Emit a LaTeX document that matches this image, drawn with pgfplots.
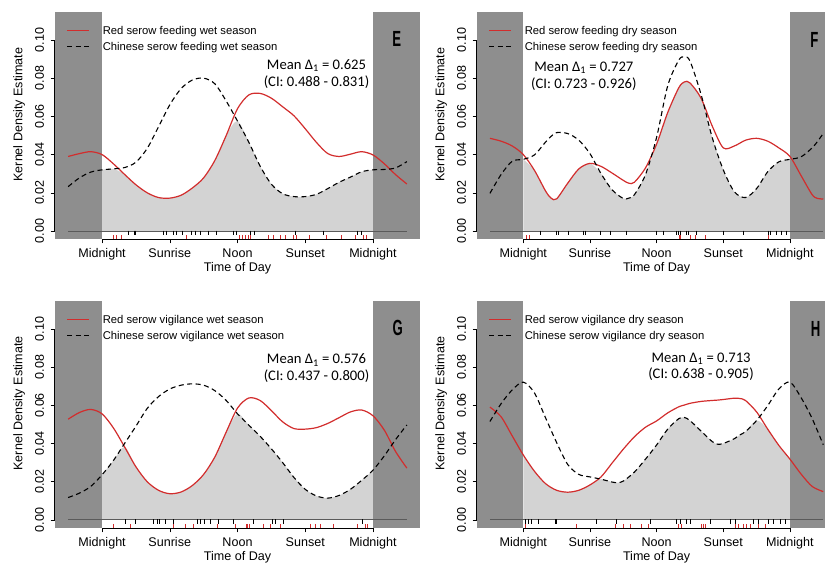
\documentclass[border=0pt]{standalone}
\usepackage{fontspec}
\setmainfont{Liberation Sans}
\newfontfamily\calib{Carlito}
\usepackage{graphicx}
\usepackage{pgfplots}
\usepackage{pgfplotstable}
\pgfplotsset{compat=1.18}

\definecolor{nightgrey}{RGB}{142,142,142}
\definecolor{overlapgrey}{RGB}{211,211,211}
\definecolor{serowred}{RGB}{210,45,45}
\definecolor{zerogrey}{RGB}{90,90,90}

\tikzset{
  redcurve/.style={serowred, line width=1.2bp},
  chinacurve/.style={black, line width=1.1bp, dash pattern=on 5bp off 3.5bp},
}

% kernel densities: x = hour of day, r = red serow, b = Chinese serow
\pgfplotstableread{
x r b
-3 0.0390 0.0232
-2 0.0405 0.0278
-1 0.0415 0.0308
0 0.0400 0.0320
1 0.0352 0.0325
2 0.0296 0.0332
3 0.0242 0.0360
4 0.0200 0.0432
5 0.0175 0.0545
6 0.0172 0.0660
7 0.0187 0.0745
8 0.0225 0.0790
9 0.0278 0.0800
10 0.0370 0.0770
11 0.0500 0.0680
12 0.0640 0.0575
13 0.0712 0.0465
14 0.0720 0.0340
15 0.0695 0.0245
16 0.0650 0.0195
17 0.0603 0.0180
18 0.0535 0.0180
19 0.0463 0.0192
20 0.0405 0.0222
21 0.0390 0.0255
22 0.0402 0.0282
23 0.0415 0.0310
24 0.0398 0.0320
25 0.0352 0.0322
26 0.0295 0.0330
27 0.0246 0.0363
}\tabE

\pgfplotstableread{
x r b
-3 0.0485 0.0197
-2 0.0470 0.0295
-1 0.0445 0.0365
0 0.0400 0.0375
1 0.0318 0.0398
2 0.0210 0.0465
2.5 0.0172 0.0495
3 0.0168 0.0515
4 0.0250 0.0510
5 0.0325 0.0475
6 0.0354 0.0405
7 0.0338 0.0300
8 0.0303 0.0215
9 0.0265 0.0170
9.5 0.0250 0.0172
10 0.0255 0.0190
11 0.0330 0.0295
12 0.0455 0.0490
13 0.0620 0.0760
14 0.0750 0.0895
14.5 0.0780 0.0910
15 0.0775 0.0890
16 0.0695 0.0715
17 0.0550 0.0490
18 0.0435 0.0320
19 0.0445 0.0205
20 0.0475 0.0175
21 0.0485 0.0222
22 0.0470 0.0310
23 0.0435 0.0362
24 0.0390 0.0375
25 0.0290 0.0388
26 0.0190 0.0435
26.5 0.0170 0.0470
27 0.0168 0.0511
}\tabF

\pgfplotstableread{
x r b
-3 0.0527 0.0117
-2 0.0562 0.0140
-1 0.0578 0.0175
0 0.0555 0.0236
1 0.0482 0.0310
2 0.0382 0.0400
3 0.0278 0.0490
4 0.0200 0.0583
5 0.0155 0.0645
6 0.0137 0.0685
7 0.0146 0.0705
8 0.0180 0.0712
9 0.0238 0.0705
10 0.0330 0.0676
11 0.0460 0.0625
12 0.0585 0.0555
13 0.0638 0.0496
14 0.0625 0.0438
15 0.0572 0.0372
16 0.0513 0.0300
17 0.0478 0.0222
18 0.0475 0.0160
19 0.0483 0.0125
20 0.0505 0.0114
21 0.0535 0.0128
22 0.0565 0.0160
23 0.0575 0.0207
24 0.0545 0.0260
25 0.0470 0.0335
26 0.0358 0.0420
27 0.0271 0.0497
}\tabG

\pgfplotstableread{
x r b
-3 0.0590 0.0515
-2 0.0540 0.0608
-1 0.0440 0.0680
0 0.0340 0.0721
1 0.0255 0.0665
2 0.0190 0.0535
3 0.0155 0.0405
4 0.0145 0.0290
5 0.0155 0.0238
6 0.0183 0.0225
7 0.0225 0.0213
8 0.0298 0.0198
8.5 0.0334 0.0195
9 0.0370 0.0203
10 0.0435 0.0250
11 0.0485 0.0318
12 0.0518 0.0392
13 0.0560 0.0475
14 0.0592 0.0530
14.5 0.0601 0.0536
15 0.0610 0.0520
16 0.0620 0.0465
17 0.0625 0.0410
17.5 0.0627 0.0396
18 0.0630 0.0400
19 0.0637 0.0425
19.5 0.0635 0.0445
20 0.0625 0.0462
21 0.0565 0.0520
22 0.0475 0.0598
23 0.0390 0.0685
24 0.0318 0.0721
25 0.0240 0.0640
26 0.0175 0.0530
27 0.0148 0.0393
}\tabH

% observation times (rug): t = hour, lvl = 1 Chinese serow, 2 red serow
\pgfplotstableread{
t lvl
2.33 1
2.83 1
2.95 1
5.43 1
5.7 1
6.32 1
6.61 1
7.1 1
7.94 1
8.24 1
8.68 1
9.42 1
10.16 1
11.6 1
11.93 1
13.1 1
13.5 1
17.1 1
19.6 1
22.6 1
23.0 1
}\rugEb
\pgfplotstableread{
t lvl
1.0 2
1.3 2
1.74 2
7.5 2
12.2 2
12.46 2
12.7 2
12.93 2
13.17 2
14.73 2
15.17 2
15.77 2
16.2 2
16.95 2
17.24 2
18.4 2
19.9 2
21.2 2
22.4 2
23.15 2
23.4 2
}\rugEr
\pgfplotstableread{
t lvl
1.5 1
3.0 1
3.15 1
4.05 1
5.4 1
5.55 1
6.9 1
7.8 1
9.3 1
12.0 1
12.6 1
13.8 1
13.95 1
14.17 1
14.7 1
14.85 1
15.6 1
18.0 1
19.8 1
22.05 1
22.2 1
22.8 1
23.25 1
23.7 1
}\rugFb
\pgfplotstableread{
t lvl
0.3 2
0.54 2
14.04 2
14.17 2
15.0 2
15.45 2
16.35 2
22.05 2
}\rugFr
\pgfplotstableread{
t lvl
2.06 1
2.95 1
4.57 1
4.87 1
5.1 1
5.6 1
6.29 1
8.41 1
8.7 1
9.06 1
9.59 1
10.33 1
11.66 1
13.43 1
15.06 1
15.35 1
16.09 1
23.03 1
}\rugGb
\pgfplotstableread{
t lvl
1.03 2
2.5 2
6.34 2
7.38 2
8.11 2
10.18 2
11.8 2
12.78 2
12.9 2
13.07 2
14.31 2
14.9 2
15.8 2
18.45 2
18.9 2
19.34 2
20.52 2
22.59 2
23.32 2
23.53 2
}\rugGr
\pgfplotstableread{
t lvl
0.15 1
0.45 1
0.75 1
1.35 1
2.85 1
3.0 1
6.6 1
8.4 1
11.4 1
13.8 1
14.1 1
14.7 1
15.0 1
16.8 1
18.6 1
19.05 1
20.7 1
21.15 1
22.05 1
22.5 1
23.1 1
23.55 1
}\rugHb
\pgfplotstableread{
t lvl
0.15 2
4.8 2
8.25 2
9.0 2
9.6 2
10.65 2
11.25 2
13.95 2
14.25 2
16.05 2
16.2 2
16.35 2
19.05 2
19.35 2
19.8 2
20.1 2
20.4 2
21.15 2
21.75 2
}\rugHr

\pgfplotsset{
  serow/.style={
    scale only axis, height=227bp,
    xmin=-4.2, xmax=28.2, ymin=-0.0044, ymax=0.1144,
    clip=false,
    axis line style={draw=none},
    xtick={0,6,12,18,24},
    xticklabels={Midnight,Sunrise,Noon,Sunset,Midnight},
    ytick={0,0.02,0.04,0.06,0.08,0.10},
    xtick pos=bottom, ytick pos=left,
    tick align=outside, major tick length=4bp,
    tick style={black, line width=0.5bp},
    tick label style={font=\fontsize{12.6}{15}\selectfont},
    yticklabel style={/pgf/number format/.cd, fixed, fixed zerofill, precision=2,
      assume math mode=true, /tikz/.cd, xshift=-11bp, rotate=90, anchor=center},
    xticklabel style={anchor=base, yshift=-14.4bp},
    xlabel={Time of Day}, ylabel={Kernel Density Estimate},
    every axis x label/.style={at={(axis description cs:0.5,0)}, yshift=-32.5bp, anchor=base,
      font=\fontsize{12.6}{15}\selectfont},
    every axis y label/.style={at={(axis description cs:0,0.55)}, xshift=-35.5bp, rotate=90,
      anchor=center, font=\fontsize{12.6}{15}\selectfont},
  },
}

% #1 densities, #2 Chinese rug, #3 red rug, #4 red legend, #5 Chinese legend
\newcommand{\serowbody}[5]{%
  \addplot[forget plot, draw=none, fill=overlapgrey, smooth, restrict x to domain=0:24]
    table[x=x, y expr={min(\thisrow{r},\thisrow{b})}] {#1} -- (axis cs:24,0) -- (axis cs:0,0) -- cycle;
  \fill[nightgrey] (axis cs:-4.2,-0.0044) rectangle (axis cs:0,0.1144);
  \fill[nightgrey] (axis cs:24,-0.0044) rectangle (axis cs:28.2,0.1144);
  \addplot[forget plot, zerogrey, line width=0.8bp] coordinates {(-3,0) (27,0)};
  \draw[black, line width=0.5bp] (axis cs:0,-0.0044) -- (axis cs:24,-0.0044);
  \draw[black, line width=0.5bp] (axis cs:-4.2,0) -- (axis cs:-4.2,0.1);
  \addplot[forget plot, only marks, black, mark=|, mark size=2.2bp, mark options={line width=0.6bp}]
    table[x=t, y expr=-0.0009] {#2};
  \addplot[forget plot, only marks, serowred, mark=|, mark size=2.2bp, mark options={line width=0.6bp}]
    table[x=t, y expr=-0.0033] {#3};
  \addplot[forget plot, redcurve, smooth] table[x=x, y=r] {#1};
  \addplot[forget plot, chinacurve, smooth] table[x=x, y=b] {#1};
  % legend
  \draw[redcurve] ([xshift=12.5bp, yshift=-18.5bp]axis description cs:0,1) -- ++(22bp,0bp);
  \draw[chinacurve] ([xshift=12.5bp, yshift=-34.5bp]axis description cs:0,1) -- ++(22bp,0bp);
  \node[anchor=base west, inner sep=0pt, font=\fontsize{11.3}{13.5}\selectfont]
    at ([xshift=48bp, yshift=-22.5bp]axis description cs:0,1) {#4};
  \node[anchor=base west, inner sep=0pt, font=\fontsize{11.3}{13.5}\selectfont]
    at ([xshift=48bp, yshift=-38.5bp]axis description cs:0,1) {#5};
}

\newcommand{\panelletter}[1]{\scalebox{0.6}[1]{\bfseries\fontsize{22}{22}\selectfont #1}}

\begin{document}
\begin{tikzpicture}
\path[use as bounding box] (0,0) rectangle (825bp,570bp);
\clip (0,0) rectangle (825bp,570bp);

\begin{axis}[serow, width=365.8bp, at={(54.6bp,330.6bp)}, anchor=south west]
  \serowbody{\tabE}{\rugEb}{\rugEr}{Red serow feeding wet season}{Chinese serow feeding wet season}
  \node[font=\calib\fontsize{14.7}{16.5}\selectfont, align=center] at (axis cs:19.0,0.0822)
    {Mean Δ\textsubscript{1} = 0.625\\(CI: 0.488 - 0.831)};
  \node at (axis cs:26.1,0.1005) {\panelletter{E}};
\end{axis}

\begin{axis}[serow, width=360bp, at={(476.6bp,330.6bp)}, anchor=south west]
  \serowbody{\tabF}{\rugFb}{\rugFr}{Red serow feeding dry season}{Chinese serow feeding dry season}
  \node[font=\calib\fontsize{14.7}{16.5}\selectfont, align=center] at (axis cs:5.45,0.081)
    {Mean Δ\textsubscript{1} = 0.727\\(CI: 0.723 - 0.926)};
  \node at (axis cs:26.2,0.1) {\panelletter{F}};
\end{axis}

\begin{axis}[serow, width=365.8bp, at={(54.6bp,41.7bp)}, anchor=south west]
  \serowbody{\tabG}{\rugGb}{\rugGr}{Red serow vigilance wet season}{Chinese serow vigilance wet season}
  \node[font=\calib\fontsize{14.7}{16.5}\selectfont, align=center] at (axis cs:19.0,0.0794)
    {Mean Δ\textsubscript{1} = 0.576\\(CI: 0.437 - 0.800)};
  \node at (axis cs:26.2,0.1005) {\panelletter{G}};
\end{axis}

\begin{axis}[serow, width=360bp, at={(476.6bp,41.7bp)}, anchor=south west]
  \serowbody{\tabH}{\rugHb}{\rugHr}{Red serow vigilance dry season}{Chinese serow vigilance dry season}
  \node[font=\calib\fontsize{14.7}{16.5}\selectfont, align=center] at (axis cs:16.0,0.080)
    {Mean Δ\textsubscript{1} = 0.713\\(CI: 0.638 - 0.905)};
  \node at (axis cs:26.3,0.1) {\panelletter{H}};
\end{axis}
\end{tikzpicture}
\end{document}
